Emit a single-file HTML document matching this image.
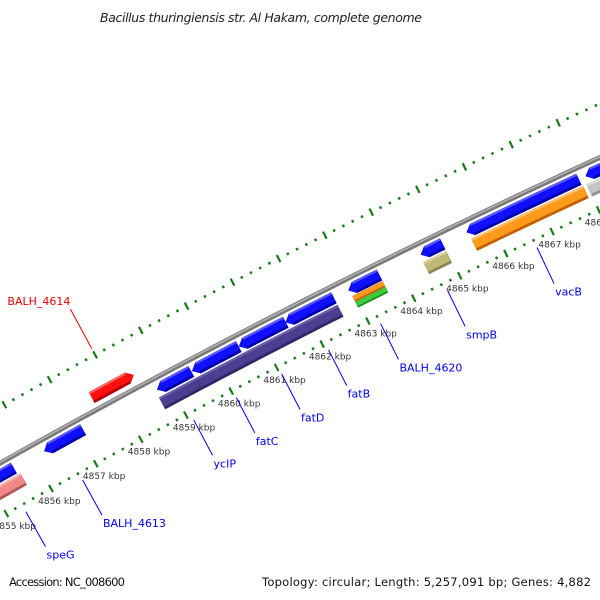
<!DOCTYPE html>
<html><head><meta charset="utf-8"><style>
html,body{margin:0;padding:0;background:#fff;width:600px;height:600px;overflow:hidden}
svg{display:block;font-family:"DejaVu Sans","Liberation Sans",sans-serif}
</style></head><body>
<svg id="map" width="600" height="600" viewBox="0 0 600 600" xmlns="http://www.w3.org/2000/svg" overflow="hidden">
<rect width="600" height="600" fill="#fff"/>
<text x="261" y="22" font-size="12.5" font-style="italic" text-anchor="middle" fill="#222" textLength="322">Bacillus thuringiensis str. Al Hakam, complete genome</text>
<g id="ticks"></g>
<g id="backbone"></g>
<g id="features"></g>
<g id="labels"></g>
<text x="9" y="586" font-size="11.5" fill="#111" textLength="116">Accession: NC_008600</text>
<text x="591" y="586" font-size="11.5" fill="#111" text-anchor="end" textLength="329">Topology: circular; Length: 5,257,091 bp; Genes: 4,882</text>
</svg>
<script>
// data (positions in kbp)
const featStart = [4854.4, 4856.24, 4858.74, 4859.51, 4860.54, 4861.56, 4862.93, 4864.5, 4865.49, 4868.05, 4857.55, 4854.5, 4858.70, 4859.51, 4860.55, 4861.56, 4862.95, 4862.95, 4864.48, 4865.52, 4868.0];
const featEnd   = [4855.56, 4857.10, 4859.49, 4860.53, 4861.56, 4862.61, 4863.60, 4864.97, 4867.90, 4869.5, 4858.47, 4855.62, 4859.51, 4860.55, 4861.56, 4862.61, 4863.60, 4863.60, 4864.97, 4867.92, 4869.5];
const featStrand = [-1,-1,-1,-1,-1,-1,-1,-1,-1,-1, 1, 0,0,0,0,0,0,0,0,0,0];
const featRow = ['cds','cds','cds','cds','cds','cds','cds','cds','cds','cds','fwd','row2','row2','row2','row2','row2','orange-thin','green-thin','row2','row2','row2'];
const featColor = ['blue','blue','blue','blue','blue','blue','blue','blue','blue','blue','red','pink','purple','purple','purple','purple','orange','green','tan','orange','gray'];
const labelNames = ['speG','BALH_4613','ycIP','fatC','fatD','fatB','BALH_4620','smpB','vacB','BALH_4614'];
const labelPos = [4855.35, 4856.62, 4859.09, 4860.03, 4861.03, 4862.06, 4863.2, 4864.66, 4866.6, 4858.0];
const labelSide = [-1,-1,-1,-1,-1,-1,-1,-1,-1,1];
const tickLabels = [4853,4854,4855,4856,4857,4858,4859,4860,4861,4862,4863,4864,4865,4866,4867,4868,4869,4870];

const NS='http://www.w3.org/2000/svg';
const cx=4046, cy=7661, R=8257;
const phi0=-118.76*Math.PI/180, kr=0.006237;
function pt(s,r){const f=phi0+(s-4857)*kr;return [cx+(R+r)*Math.cos(f), cy+(R+r)*Math.sin(f)];}
function mk(tag,attrs,parent){const e=document.createElementNS(NS,tag);for(const k in attrs)e.setAttribute(k,attrs[k]);parent.appendChild(e);return e;}
function arcPts(s1,s2,r,n){const a=[];for(let i=0;i<=n;i++){a.push(pt(s1+(s2-s1)*i/n,r));}return a;}
function P(a){return a.map(p=>p[0].toFixed(1)+','+p[1].toFixed(1)).join(' ');}
function inView(p){return p[0]>-20&&p[0]<620&&p[1]>-20&&p[1]<575;}

// backbone
const bb=document.getElementById('backbone');
const b1=mk('polyline',{points:P(arcPts(4852,4870,0,60)),fill:'none',stroke:'#7a7a7a','stroke-width':5},bb);


const b2=mk('polyline',{points:P(arcPts(4852,4870,0.8,60)),fill:'none',stroke:'#b4b4b4','stroke-width':1.5},bb);



// ticks
const tg=document.getElementById('ticks');
[-47,49].forEach(ring=>{
  for(let s=4850;s<=4872.001;s+=0.2){
    const major=Math.abs(s-Math.round(s))<0.01;
    const h=major?4:1.3;
    const a=pt(s,ring+h), b=pt(s,ring-h);
    if(!inView(a)||!inView(b)) continue;
    const l=mk('line',{x1:a[0],y1:a[1],x2:b[0],y2:b[1],stroke:'#1a7a1a','stroke-width':major?2.2:2.4},tg);
    
    
  }
});
tickLabels.forEach(v=>{
  const p=pt(v,-60);
  if(!inView(p)) return;
  const t=mk('text',{x:p[0]+2,y:p[1]+4,'font-size':9,'text-anchor':'middle',fill:'#333'},tg);
  t.textContent=v+' kbp';
  
  
});

// features
const colors={blue:['#1010ff','#0000a8','#5a5aff'],red:['#ff1010','#b00000','#ff6060'],pink:['#f08888','#b05858','#f8b0b0'],purple:['#4a3f90','#2e2668','#6a60b0'],orange:['#ff9a1a','#c06000','#ffc070'],green:['#3ccc3c','#1c8c1c','#80e080'],tan:['#bfb878','#8a8450','#d8d4a0'],gray:['#c4c4c4','#909090','#e0e0e0']};
const rows={cds:[-5,-17],fwd:[7,19],row2:[-19,-32],'orange-thin':[-18,-24],'green-thin':[-24.5,-30.5]};
const fg=document.getElementById('features');
featStart.forEach((s1,i)=>{
  const s2=featEnd[i], rr=rows[featRow[i]], c=colors[featColor[i]], d=featStrand[i];
  const ro=Math.max(rr[0],rr[1]), ri=Math.min(rr[0],rr[1]), rm=(ro+ri)/2;
  const hd=0.13; let poly;
  const n=Math.max(2,Math.ceil((s2-s1)*4));
  if(d<0){poly=[pt(s1,rm)].concat(arcPts(s1+hd,s2,ro,n),arcPts(s2,s1+hd,ri,n));}
  else if(d>0){poly=arcPts(s1,s2-hd,ro,n).concat([pt(s2,rm)],arcPts(s2-hd,s1,ri,n));}
  else{poly=arcPts(s1,s2,ro,n).concat(arcPts(s2,s1,ri,n));}
  const g=mk('g',{},fg);
  
  
  mk('polygon',{points:P(poly),fill:c[0],stroke:c[1],'stroke-width':0.4},g);
  const thick=(ro-ri)>7;
  const sA=d<0?s1+hd:s1, sB=d>0?s2-hd:s2;
  const dark=mk('polygon',{points:P(arcPts(sA,sB,ri+(thick?2.5:1.5),n).concat(arcPts(sB,sA,ri,n))),fill:c[1]},g);
  
  
  if(thick){
    const lt=mk('polygon',{points:P(arcPts(sA,sB,ro,n).concat(arcPts(sB,sA,ro-2,n))),fill:c[2]},g);
    
    
  }
});

// labels
const lg=document.getElementById('labels');
labelNames.forEach((name,i)=>{
  const sd=labelSide[i];
  const a=pt(labelPos[i], sd<0?-55:56), b=pt(labelPos[i], sd<0?-95:101);
  const col=sd<0?'#0000ee':'#ee0000';
  const l=mk('line',{x1:a[0],y1:a[1],x2:b[0],y2:b[1],stroke:col,'stroke-width':1},lg);
  
  
  const t=mk('text',{x:sd<0?b[0]+1:b[0],y:sd<0?b[1]+12:b[1]-4,'font-size':11,fill:col,'text-anchor':sd<0?'start':'end'},lg);
  t.textContent=name;
  
  
});
</script>
</body></html>
